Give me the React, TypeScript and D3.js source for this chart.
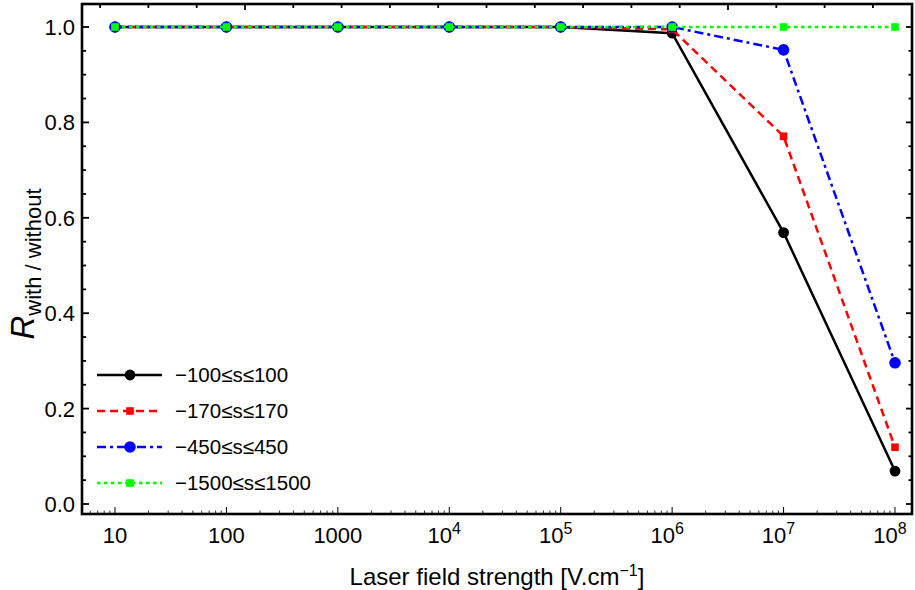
import React from "react";
import * as d3 from "d3";

const fields = [10, 100, 1e3, 1e4, 1e5, 1e6, 1e7, 1e8];
const seriesNames = ["−100≤s≤100", "−170≤s≤170", "−450≤s≤450", "−1500≤s≤1500"];
const black = [1, 1, 1, 1, 1, 0.987, 0.569, 0.069];
const red = [1, 1, 1, 1, 1, 0.995, 0.771, 0.119];
const blue = [1, 1, 1, 1, 1, 1, 0.952, 0.296];
const green = [1, 1, 1, 1, 1, 1, 1, 1];
const yTickLabels = ["0.0", "0.2", "0.4", "0.6", "0.8", "1.0"];
const xTickLabels: [string, string | null][] = [
  ["10", null], ["100", null], ["1000", null], ["10", "4"], ["10", "5"], ["10", "6"], ["10", "7"], ["10", "8"],
];

const W = 915, H = 590;
const L = 82, R = 912, T = 4, B = 514;

export default function App() {
  const x = d3.scaleLog().domain([Math.pow(10, 0.7039), Math.pow(10, 8.1526)]).range([L, R]);
  const y = d3.scaleLinear().domain([0, 1]).range([504, 27]);
  const topScale = d3.scaleLinear().domain([0, 1]).range([245, 728]);

  const styles = [
    { data: black, color: "#000", dash: null as string | null, marker: "circle", r: 5.4 },
    { data: red, color: "#ff0000", dash: "8,5", marker: "square", r: 3.8 },
    { data: blue, color: "#0000ff", dash: "9,4,3,4", marker: "circle", r: 5.8 },
    { data: green, color: "#00ff00", dash: "3.5,3.5", marker: "square", r: 3.8 },
  ];

  const line = d3.line<number>().x((_, i) => x(fields[i])).y((d) => y(d));

  const font = "'Liberation Sans', Arial, Helvetica, sans-serif";

  const yMinor = d3.range(0, 1.0001, 0.05);
  const xMinor: number[] = [];
  for (let e = 0; e <= 8; e++) for (let k = 2; k <= 9; k++) {
    const v = k * Math.pow(10, e);
    if (x(v) > L && x(v) < R) xMinor.push(v);
  }
  const topTicks = d3.range(-0.3, 1.45, 0.1).filter((v) => topScale(v) > L + 2 && topScale(v) < R - 2);

  const marker = (s: typeof styles[0], cx: number, cy: number, key: string) =>
    s.marker === "circle" ? (
      <circle key={key} cx={cx} cy={cy} r={s.r} fill={s.color} />
    ) : (
      <rect key={key} x={cx - s.r} y={cy - s.r} width={s.r * 2} height={s.r * 2} fill={s.color} />
    );

  const legendY = [375, 411, 447, 483];

  return (
    <svg width={W} height={H} style={{ position: "absolute", left: 0, top: 0, background: "#fff" }} fontFamily={font}>
      <rect x={0} y={0} width={W} height={H} fill="#fff" />
      {styles.map((s, si) => (
        <g key={si}>
          <path d={line(s.data) || ""} fill="none" stroke={s.color} strokeWidth={2.5} strokeDasharray={s.dash || undefined} />
          {s.data.map((d, i) => marker(s, x(fields[i]), y(d), `m${si}-${i}`))}
        </g>
      ))}
      {yMinor.map((v, i) => {
        const major = Math.abs((v * 100) % 20) < 1e-6 || Math.abs((v * 100) % 20 - 20) < 1e-6;
        return (
          <g key={`yt${i}`} stroke="#000" strokeWidth={1.8}>
            <line x1={L} x2={L + (major ? 7 : 4)} y1={y(v)} y2={y(v)} />
            <line x1={R} x2={R - (major ? 6 : 3.5)} y1={y(v)} y2={y(v)} />
          </g>
        );
      })}
      {yTickLabels.map((t, i) => (
        <text key={`yl${i}`} x={L - 7} y={y(+t)} dy="0.36em" textAnchor="end" fontSize={22}>{t}</text>
      ))}
      {fields.map((v, i) => (
        <line key={`xt${i}`} x1={x(v)} x2={x(v)} y1={B} y2={B - 7} stroke="#000" strokeWidth={1} />
      ))}
      {xMinor.map((v, i) => (
        <line key={`xm${i}`} x1={x(v)} x2={x(v)} y1={B} y2={B - 3.5} stroke="#000" strokeWidth={0.8} />
      ))}
      {topTicks.map((v, i) => {
        const major = Math.abs(v - Math.round(v)) < 1e-6;
        return <line key={`tt${i}`} x1={topScale(v)} x2={topScale(v)} y1={T} y2={T + (major ? 6 : 4)} stroke="#000" strokeWidth={1.8} />;
      })}
      {xTickLabels.map(([b, e], i) => (
        <text key={`xl${i}`} x={x(fields[i]) + (e ? -5 : 0)} y={543} textAnchor="middle" fontSize={22}>
          {b}
          {e && <tspan dy={-9} fontSize={16}>{e}</tspan>}
        </text>
      ))}
      <rect x={L} y={T} width={R - L} height={B - T} fill="none" stroke="#000" strokeWidth={2.6} />
      <text x={497} y={585} textAnchor="middle" fontSize={24}>
        Laser field strength [V.cm<tspan dy={-9} fontSize={16}>−1</tspan><tspan dy={9}>]</tspan>
      </text>
      <text transform={`translate(34,264) rotate(-90)`} textAnchor="middle" fontSize={33}>
        <tspan fontStyle="italic">R</tspan>
        <tspan dy={7} fontSize={22}>with / without</tspan>
      </text>
      {styles.map((s, i) => (
        <g key={`lg${i}`}>
          <line x1={97} x2={162} y1={legendY[i]} y2={legendY[i]} stroke={s.color} strokeWidth={2.5} strokeDasharray={s.dash || undefined} />
          {marker(s, 130, legendY[i], `lm${i}`)}
          <text x={175} y={legendY[i]} dy="0.36em" fontSize={20.5}>{seriesNames[i]}</text>
        </g>
      ))}
    </svg>
  );
}
